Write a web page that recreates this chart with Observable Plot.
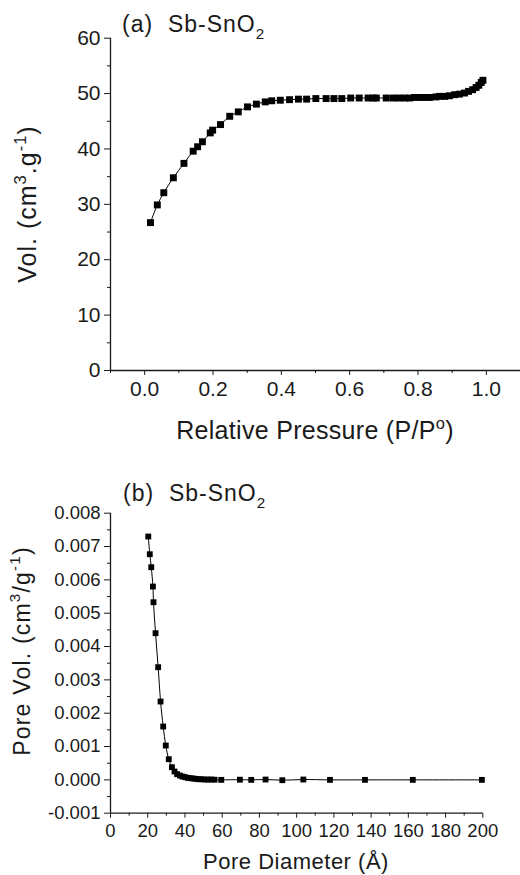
<!DOCTYPE html>
<html>
<head>
<meta charset="utf-8">
<script src="https://cdn.jsdelivr.net/npm/d3@7"></script>
<script src="https://cdn.jsdelivr.net/npm/@observablehq/plot@0.6"></script>
<style>
  html, body { margin: 0; padding: 0; background: #fff; }
  #chart svg { display: block; }
</style>
</head>
<body>
<div id="chart"></div>
<script>
// ---- Panel (a): N2 isotherm ----
const relPressure = [0.017, 0.037, 0.056, 0.084, 0.115, 0.142, 0.155, 0.169, 0.192, 0.199,
  0.222, 0.249, 0.274, 0.301, 0.327, 0.353, 0.372, 0.397, 0.424, 0.450,
  0.474, 0.501, 0.531, 0.554, 0.577, 0.603, 0.628, 0.654, 0.669, 0.678,
  0.707, 0.727, 0.744, 0.761, 0.776, 0.790, 0.805, 0.819, 0.834, 0.853,
  0.863, 0.878, 0.892, 0.907, 0.921, 0.936, 0.948, 0.960, 0.970, 0.978,
  0.985, 0.990];
const adsorbedVol = [26.7, 29.9, 32.1, 34.8, 37.4, 39.6, 40.4, 41.3, 42.9, 43.4,
  44.4, 45.9, 46.7, 47.6, 48.1, 48.5, 48.7, 48.8, 48.9, 49.0,
  49.0, 49.1, 49.1, 49.1, 49.1, 49.2, 49.2, 49.2, 49.2, 49.2,
  49.2, 49.2, 49.2, 49.2, 49.2, 49.3, 49.3, 49.3, 49.3, 49.4,
  49.5, 49.5, 49.6, 49.8, 49.9, 50.1, 50.4, 50.7, 51.1, 51.5,
  52.0, 52.4];
const xTicksA = [0.0, 0.2, 0.4, 0.6, 0.8, 1.0];
const xMinorA = [-0.1, 0.1, 0.3, 0.5, 0.7, 0.9];
const yTicksA = [0, 10, 20, 30, 40, 50, 60];
const yMinorA = [5, 15, 25, 35, 45, 55];

// ---- Panel (b): pore size distribution ----
const poreDiameter = [20.3, 21.1, 21.9, 22.8, 23.1, 24.2, 25.6, 26.9, 28.3, 29.7,
  31.3, 33.0, 34.4, 35.8, 37.3, 38.7, 40.1, 41.6, 43.0, 44.5,
  45.9, 47.3, 48.8, 50.5, 52.3, 54.1, 55.9, 59.5, 69.5, 75.6,
  83.3, 92.3, 103.6, 117.9, 136.7, 162.4, 199.5];
const poreVolume = [0.00730, 0.00677, 0.00638, 0.00580, 0.00533, 0.00440, 0.00338, 0.00235, 0.00160, 0.00103,
  0.00062, 0.00038, 0.00025, 0.00017, 0.00013, 0.00010, 0.00008, 0.00006, 0.00005, 0.00004,
  0.00003, 0.00002, 0.00002, 0.00001, 0.00001, 0.00001, 0.000005, 0.0, 0.000005, 0.0,
  0.00001, -0.00001, 0.00001, 0.0, 0.0, 0.0, 0.0];
const xTicksB = [0, 20, 40, 60, 80, 100, 120, 140, 160, 180, 200];
const xMinorB = [10, 30, 50, 70, 90, 110, 130, 150, 170, 190];
const yTicksB = [-0.001, 0.000, 0.001, 0.002, 0.003, 0.004, 0.005, 0.006, 0.007, 0.008];
const yMinorB = [-0.0005, 0.0005, 0.0015, 0.0025, 0.0035, 0.0045, 0.0055, 0.0065, 0.0075];

const isoData = relPressure.map((p, i) => ({p, v: adsorbedVol[i]}));
const poreData = poreDiameter.map((d, i) => ({d, v: poreVolume[i]}));

const FONT = "'Liberation Sans', Arial, Helvetica, sans-serif";
const INK = "#1a1a1a";

const plotA = Plot.plot({
  width: 520, height: 455,
  marginLeft: 110, marginRight: 0, marginTop: 37.7, marginBottom: 85,
  style: {fontFamily: FONT, fontSize: "21px", color: INK, background: "#fff"},
  x: {domain: [-0.1, 1.1]},
  y: {domain: [0, 60]},
  marks: [
    Plot.axisX({ticks: xTicksA, tickSize: 5, tickPadding: 6, tickFormat: d => d.toFixed(1), label: null, stroke: INK}),
    Plot.axisX({ticks: xMinorA, tickSize: 3, tickFormat: () => "", label: null, stroke: INK}),
    Plot.axisY({ticks: yTicksA, tickSize: 6, tickPadding: 4, tickFormat: d => String(d), label: null, stroke: INK}),
    Plot.axisY({ticks: yMinorA, tickSize: 3, tickFormat: () => "", label: null, stroke: INK}),
    Plot.ruleY([0], {stroke: INK, strokeWidth: 1.3}),
    Plot.ruleX([-0.1], {stroke: INK, strokeWidth: 1.3}),
    Plot.line(isoData, {x: "p", y: "v", stroke: "#000", strokeWidth: 1, curve: "catmull-rom"}),
    Plot.dot(isoData, {x: "p", y: "v", symbol: "square", r: 3.9, fill: "#000", stroke: null})
  ]
});

const plotB = Plot.plot({
  width: 520, height: 420,
  marginLeft: 110, marginRight: 37.7, marginTop: 57.7, marginBottom: 62.3,
  style: {fontFamily: FONT, fontSize: "18.5px", color: INK, background: "#fff"},
  x: {domain: [0, 200]},
  y: {domain: [-0.001, 0.008]},
  marks: [
    Plot.axisX({ticks: xTicksB, tickSize: 5, tickPadding: 6, tickFormat: d => String(d), label: null, stroke: INK}),
    Plot.axisX({ticks: xMinorB, tickSize: 3, tickFormat: () => "", label: null, stroke: INK}),
    Plot.axisY({ticks: yTicksB, tickSize: 6, tickPadding: 4, tickFormat: d => d.toFixed(3), label: null, stroke: INK}),
    Plot.axisY({ticks: yMinorB, tickSize: 3, tickFormat: () => "", label: null, stroke: INK}),
    Plot.ruleY([-0.001], {stroke: INK, strokeWidth: 1.3}),
    Plot.ruleX([0], {stroke: INK, strokeWidth: 1.3}),
    Plot.line(poreData, {x: "d", y: "v", stroke: "#000", strokeWidth: 1, curve: "catmull-rom"}),
    Plot.dot(poreData, {x: "d", y: "v", symbol: "square", r: 3.3, fill: "#000", stroke: null})
  ]
});

// Rich text helper (super/subscripts as tspans)
function richText(svgNode, {x, y, size, anchor = "start", rotate = false, spacing = 0, parts}) {
  const svg = d3.select(svgNode);
  const t = svg.append("text")
    .attr("font-family", FONT)
    .attr("font-size", size)
    .attr("fill", INK)
    .attr("letter-spacing", spacing)
    .attr("text-anchor", anchor);
  if (rotate) t.attr("transform", `translate(${x},${y}) rotate(-90)`);
  else t.attr("x", x).attr("y", y);
  let shift = 0;
  for (const [s, kind] of parts) {
    const target = kind === "sup" ? -0.42 * size : kind === "sub" ? 0.32 * size : 0;
    const ts = t.append("tspan").text(s).attr("dy", target - shift);
    if (kind) ts.attr("font-size", size * 0.66);
    shift = target;
  }
}

richText(plotA, {x: 122, y: 32, size: 23, spacing: 1, parts: [["(a)  Sb-SnO"], ["2", "sub"]]});
richText(plotA, {x: 315, y: 439, size: 25, spacing: 0.3, anchor: "middle", parts: [["Relative Pressure (P/P"], ["o", "sup"], [")"]]});
richText(plotA, {x: 36, y: 204, size: 25, spacing: 1, anchor: "middle", rotate: true, parts: [["Vol. (cm"], ["3", "sup"], [".g"], ["-1", "sup"], [")"]]});

richText(plotB, {x: 123, y: 46, size: 23, spacing: 1, parts: [["(b)  Sb-SnO"], ["2", "sub"]]});
richText(plotB, {x: 296, y: 414, size: 22, spacing: 0.5, anchor: "middle", parts: [["Pore Diameter (Å)"]]});
richText(plotB, {x: 30, y: 196, size: 23, spacing: 1.2, anchor: "middle", rotate: true, parts: [["Pore Vol. (cm"], ["3", "sup"], ["/g"], ["-1", "sup"], [")"]]});

document.getElementById("chart").append(plotA, plotB);
</script>
</body>
</html>
